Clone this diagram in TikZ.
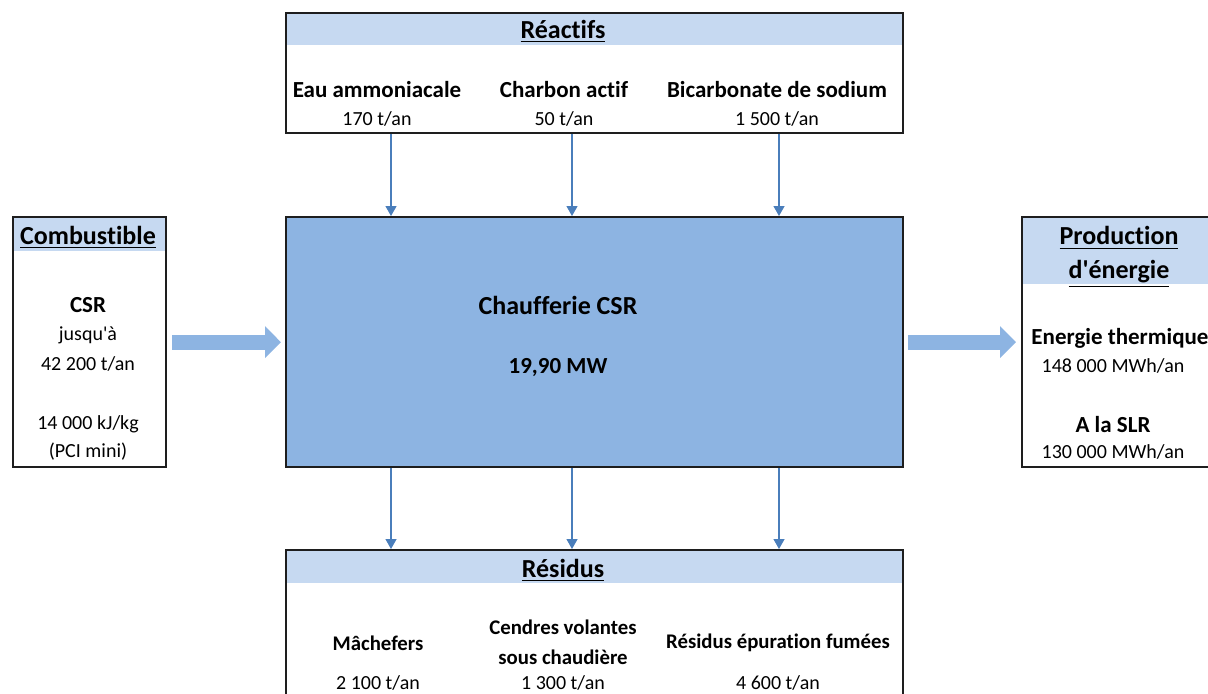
\documentclass[tikz,border=0pt]{standalone}
\usepackage{fontspec}
\setmainfont{Carlito}[Ligatures=NoCommon]
\usetikzlibrary{arrows.meta,positioning,backgrounds,calc}
\definecolor{ink}{HTML}{1E1E1E}
\definecolor{head}{HTML}{C6D9F1}
\definecolor{core}{HTML}{8DB4E2}
\definecolor{pipe}{HTML}{4A7EBB}
\tikzset{
 panel/.style={draw=ink,line width=1.2pt,anchor=north west,inner sep=0pt},
 ttl/.style={font=\fontsize{13}{16}\selectfont\bfseries,align=center,inner sep=1pt},
 itm/.style={font=\fontsize{11.5}{14}\selectfont\bfseries,align=center,inner sep=1pt},
 sitm/.style={itm,font=\fontsize{10.4}{14}\selectfont\bfseries},
 val/.style={font=\fontsize{10}{12}\selectfont,align=center,inner sep=1pt},
 flow/.style={-{Triangle[length=5pt,width=5.5pt]},draw=pipe,line width=.6pt},
 bigflow/.style={-{Triangle[length=8pt,width=15.5pt]},draw=core,line width=7.5pt}
}

\begin{document}
\begin{tikzpicture}[x=0.5pt,y=-0.5pt]
  \useasboundingbox (0,0) rectangle (1208,693);

  % boites
  \node[panel,minimum width=308.5pt,minimum height=60pt] (reac) at (285,12) {};
  \node[panel,fill=core,minimum width=308.5pt,minimum height=125pt] (chauf) at (285,216) {};
  \node[panel,minimum width=308.5pt,minimum height=80pt] (resid) at (285,549) {};
  \node[panel,minimum width=76.5pt,minimum height=125pt] (comb) at (12,216) {};
  \node[panel,minimum width=100pt,minimum height=125pt] (prod) at (1021,216) {};

  \begin{scope}[on background layer]
    \fill[head] (reac.north west) rectangle ([yshift=-16.5pt]reac.north east);
    \fill[head] (resid.north west) rectangle ([yshift=-17pt]resid.north east);
    \fill[head] (comb.north west) rectangle ([yshift=-17.5pt]comb.north east);
    \fill[head] (prod.north west) rectangle ([yshift=-34pt]prod.north east);
  \end{scope}

  % reactifs
  \node[ttl] (reacT) at (563,31) {\underline{Réactifs}};
  \node[itm] (eau) at (377,90) {Eau ammoniacale};
  \node[val] (eauV) at (377,119) {170 t/an};
  \node[itm] (charb) at (564,90) {Charbon actif};
  \node[val] (charbV) at (564,119) {50 t/an};
  \node[itm] (bicar) at (777,90) {Bicarbonate de sodium};
  \node[val] (bicarV) at (777,119) {1 500 t/an};

  % combustible
  \node[ttl] (combT) at (88,237) {\underline{Combustible}};
  \node[itm] (csr) at (88,305) {CSR};
  \node[val] (csr1) at (88,335) {jusqu\textquotesingle à};
  \node[val] (csr2) at (88,364) {42 200 t/an};
  \node[val] (pci1) at (88,424) {14 000 kJ/kg};
  \node[val] (pci2) at (88,452) {(PCI mini)};

  % chaufferie
  \node[ttl] (chaufT) at (558,305) {Chaufferie CSR};
  \node[itm] (power) at (558,367) {19,90 MW};

  % production
  \node[ttl] (prodT) at (1119,257) {\underline{Production}\\[1pt]\underline{d\textquotesingle énergie}};
  \node[itm] (therm) at (1120,338) {Energie thermique};
  \node[val] (thermV) at (1113,366) {148 000 MWh/an};
  \node[itm] (slr) at (1113,424) {A la SLR};
  \node[val] (slrV) at (1113,452) {130 000 MWh/an};

  % residus
  \node[ttl] (residT) at (563,570) {\underline{Résidus}};
  \node[sitm] (mach) at (378,643) {Mâchefers};
  \node[val] (machV) at (378,683) {2 100 t/an};
  \node[sitm] (cendr) at (563,642) {Cendres volantes\\[1pt]sous chaudière};
  \node[val] (cendrV) at (563,683) {1 300 t/an};
  \node[sitm] (epur) at (778,643) {Résidus épuration fumées};
  \node[val] (epurV) at (778,683) {4 600 t/an};

  % flux
  \foreach \dx in {53pt,143.5pt,247pt}{
    \draw[flow] ([xshift=\dx]reac.south west) -- ([xshift=\dx]chauf.north west);
    \draw[flow] ([xshift=\dx]chauf.south west) -- ([xshift=\dx]resid.north west);
  }
  \draw[bigflow,shorten <=2.5pt,shorten >=2pt] (comb.east) -- (chauf.west);
  \draw[bigflow,shorten <=2pt,shorten >=2.5pt] (chauf.east) -- (prod.west);
\end{tikzpicture}
\end{document}
